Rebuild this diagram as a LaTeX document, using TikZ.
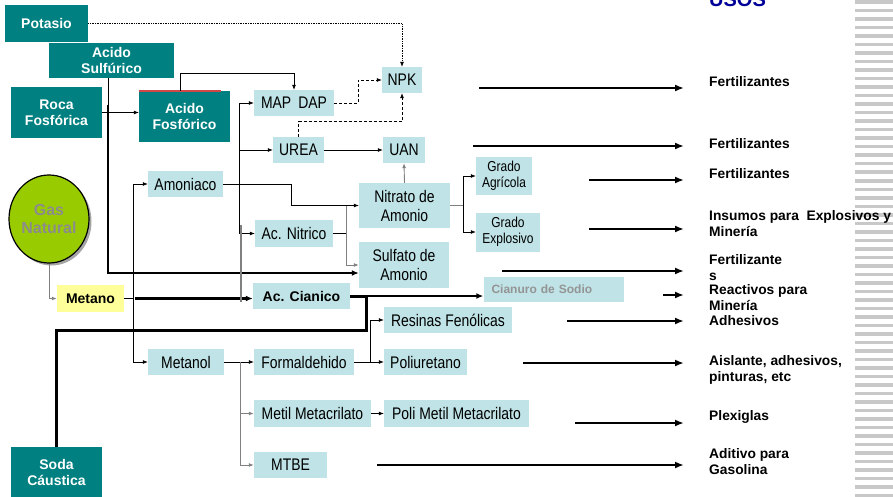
\documentclass[tikz,border=0pt]{standalone}
\usepackage{fontspec}
\setmainfont{Liberation Sans}
\newfontfamily\boxfont[FakeStretch=0.83]{Liberation Sans}
\usepackage{xcolor}
\usepackage{tikz}
\usetikzlibrary{shadows}
\usetikzlibrary{positioning}
\usetikzlibrary{arrows.meta,shapes}
\usetikzlibrary{calc}
\definecolor{petrol}{HTML}{008080}
\definecolor{aqua}{HTML}{BFE3E6}
\definecolor{limon}{HTML}{FFFF99}
\definecolor{pasto}{HTML}{99CC00}
\definecolor{usoblue}{HTML}{000099}
\definecolor{rojo}{HTML}{D04848}
\definecolor{raya}{RGB}{200,200,200}
\tikzstyle{darkbox}=[rectangle,fill=petrol,text=white,inner sep=0pt,align=center,font=\bfseries\fontsize{14}{16}\selectfont]
\tikzstyle{lightbox}=[rectangle,fill=aqua,inner sep=0pt,align=center,font=\boxfont\fontsize{16.8}{19}\selectfont]
\tikzstyle{smallbox}=[lightbox,font=\boxfont\fontsize{14.4}{16}\selectfont]
\tikzstyle{yellowbox}=[rectangle,fill=limon,inner sep=0pt,font=\bfseries\fontsize{14}{16}\selectfont]
\tikzstyle{usetext}=[anchor=west,inner sep=0pt,align=left,font=\bfseries\fontsize{13.8}{16}\selectfont]
\tikzstyle{plain}=[draw,line width=0.7pt]
\tikzstyle{conn}=[draw,line width=0.7pt,-{Latex[length=5pt,width=4pt]}]
\tikzstyle{gconn}=[conn,draw=black!50,line width=0.9pt]
\tikzstyle{heavy}=[draw,line width=3pt]
\tikzstyle{midarrow}=[draw,line width=2.2pt,-{Latex[length=7pt,width=6pt]}]
\tikzstyle{usearrow}=[draw,line width=2pt,-{Latex[length=9pt,width=7pt]}]
\tikzset{gasnode/.style={ellipse,draw=black,line width=1.2pt,fill=pasto,text=black!45,align=center,inner sep=0pt,
    font=\bfseries\fontsize{16}{18}\selectfont,drop shadow={shadow xshift=2.5pt,shadow yshift=-2.5pt,fill=black!70}}}

\begin{document}
\begin{tikzpicture}[x=1pt,y=-1pt]

    \useasboundingbox (0,0) rectangle (893,497);

%stripes
    \foreach \i in {0,...,58}
        \fill[raya] (855,\i*8.5+0.5) rectangle (893,\i*8.5+4);

    \node[anchor=base west,text=usoblue,inner sep=0pt,font=\bfseries\fontsize{20}{24}\selectfont] (usos) at (709,7) {USOS};

%raw materials
    \foreach \pos/\name/\w/\h/\label in {{(46.5,23.5)/pot/83/37/Potasio}, {(111.5,60.5)/asulf/125/35/{Acido\\Sulfúrico}},
        {(56.5,112.5)/roca/91/51/{Roca\\Fosfórica}}, {(184.5,116.5)/afos/91/51/{Acido\\Fosfórico}}, {(56.5,472)/soda/91/50/{Soda\\Cáustica}}}
        \node[darkbox,minimum width=\w pt,minimum height=\h pt] (\name) at \pos {\label};
    \draw[draw=rojo,line width=1.5pt] (afos.north west) -- ++(82,0);

    \node[gasnode,minimum width=80pt,minimum height=88pt] (gas) at (49,219) {Gas\\Natural};
    \node[yellowbox,minimum width=67pt,minimum height=27pt] (metano) at (90.5,298.5) {Metano};

%products
    \foreach \pos/\name/\w/\h/\label in {{(402,80)/npk/40/26/NPK}, {(294,103)/map/80/26/{MAP\hspace{7pt}DAP}},
        {(298.5,150)/urea/51/26/UREA}, {(404,150)/uan/42/26/UAN}, {(185.5,184)/amon/75/26/Amoniaco},
        {(404.5,205.5)/nitr/91/45/{Nitrato de\\Amonio}}, {(294,233.5)/acn/78/27/{Ac. Nitrico}},
        {(404,265)/sulf/90/46/{Sulfato de\\Amonio}}, {(448,320)/resin/128/26/{Resinas Fenólicas}},
        {(186,362)/metol/76/26/Metanol}, {(304,362)/form/100/26/Formaldehido}, {(425.5,362)/poli/83/26/Poliuretano},
        {(312.5,413.5)/metil/117/27/{Metil Metacrilato}}, {(456.5,413.5)/pmm/145/27/{Poli Metil Metacrilato}},
        {(290.5,465)/mtbe/73/26/MTBE}}
        \node[lightbox,minimum width=\w pt,minimum height=\h pt] (\name) at \pos {\label};

    \node[lightbox,minimum width=97pt,minimum height=26pt,font=\bfseries\fontsize{14}{16}\selectfont] (acc) at (301.5,296) {Ac. Cianico};
    \node[smallbox,minimum width=56pt,minimum height=38pt] (agri) at (504,176) {Grado\\Agrícola};
    \node[smallbox,minimum width=64pt,minimum height=39pt] (expl) at (508,232) {Grado\\Explosivo};
    \node[lightbox,text=black!42,text width=124pt,align=left,inner xsep=8pt,minimum height=25pt,
        font=\bfseries\fontsize{12}{14}\selectfont] (cian) at (553.5,289.5) {Cianuro de Sodio};

%uses
    \foreach \y/\name/\label in {82/u1/Fertilizantes, 144/u2/Fertilizantes, 174/u3/Fertilizantes,
        224/u4/{Insumos para\ \ Explosivos y\\Minería}, 268/u5/{Fertilizante\\s}, 298/u6/{Reactivos para\\Minería},
        320.5/u7/Adhesivos, 370/u8/{Aislante, adhesivos,\\pinturas, etc}, 416.5/u9/Plexiglas, 462/u10/{Aditivo para\\Gasolina}}
        \node[usetext] (\name) at (709,\y) {\label};

    \foreach \y/\x/\name in {88/479/a1, 146/473/a2, 180/589/a3, 229/589/a4, 271/502/a5, 295/663/a6,
        321/567/a7, 363/523/a8, 423/575/a9, 465/377/a10}
    {
        \coordinate (\name) at (\x,\y);
        \coordinate (e\name) at (684,\y);
        \draw[usearrow] (\name) -- (e\name);
    }

    % fosfatos
    \draw[conn,densely dotted] (pot.east) -| (npk.north);
    \draw[conn,densely dashed] (map.east) -- ++(24,0) |- (npk.west);
    \draw[conn,densely dashed] (urea.north) -- ++(0,-15) -| (npk.south);
    \draw[conn] ([xshift=-4pt]afos.north) -- ++(0,-17) -| (map.north);
    \draw[conn] (roca.east) -- (roca.east -| afos.west);

    % acido sulfurico
    \coordinate (sj) at (108,105);
    \draw[plain] (asulf.south -| sj) -- (sj);
    \draw[heavy,line width=2.4pt,-{Latex[length=7pt,width=6pt]}] (sj) |- ([yshift=-8pt]sulf.west);

    % gas natural
    \draw[gconn] (gas.south) |- (metano.west);
    \coordinate (mj) at (133,298.5);
    \draw[plain] (metano.east) -- (mj);
    \draw[conn] (mj) |- (amon.west);
    \draw[conn] (mj) |- (metol.west);
    \draw[midarrow] ([xshift=2pt]mj) -- (mj -| acc.west);

    % amoniaco
    \draw[conn] (amon.east) -- ++(68,0) |- (nitr.west);
    \coordinate (bj) at (239,184);
    \draw[conn] (bj) |- (map.west);
    \draw[conn] (bj) |- (urea.west);
    \draw[conn] (bj) |- (acn.west);
    \coordinate (g1) at (241,225);
    \coordinate (g2) at (241,302);
    \draw[draw=black!50,line width=2pt] (g1) -- (g2);

    % nitrico
    \draw[plain] (acn.east) -- ++(13,0) coordinate (nj);
    \draw[gconn] (nitr.west -| nj) |- (sulf.west);
    \draw[gconn] (nitr.north) -- (uan.south);
    \draw[conn] (urea.east) -- (uan.west);
    \draw[gconn,-] (nitr.east) -- ++(13,0) coordinate (gj);
    \draw[conn] (gj) |- (agri.west);
    \draw[conn] (gj) |- (expl.west);

    % cianico
    \draw[heavy] (acc.east) -- ++(16,0) coordinate (cj);
    \draw[heavy] (soda.north) |- (cj |- 0,330) -- (cj);
    \draw[draw,line width=1.8pt,-{Latex[length=7pt,width=6pt]}] (cj) -- (cj -| cian.west);

    % metanol
    \draw[plain] (form.east) -- ++(16,0) coordinate (fj);
    \draw[conn] (fj) |- (resin.west);
    \draw[conn] (fj) -- (poli.west);
    \draw[plain] (metol.east) -- ++(16,0) coordinate (tj);
    \draw[conn] (tj) -- (form.west);
    \draw[gconn] (tj) |- (metil.west);
    \draw[gconn] (tj) |- (mtbe.west);
    \draw[conn] (metil.east) -- (pmm.west);

\end{tikzpicture}
\end{document}
